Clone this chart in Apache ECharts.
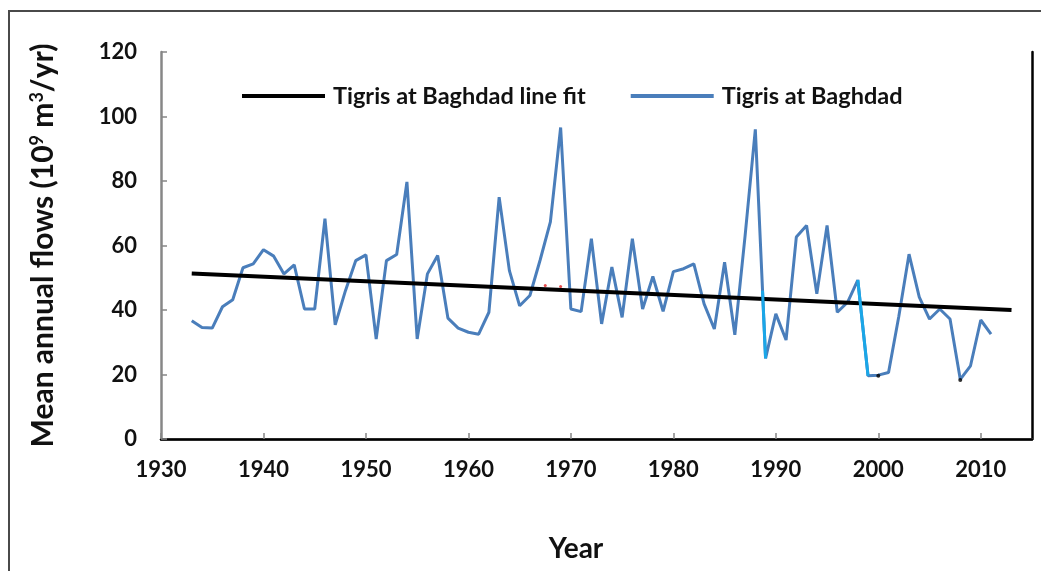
<!DOCTYPE html>
<html>
<head>
<meta charset="UTF-8">
<title>Tigris at Baghdad</title>
<script src="https://cdn.jsdelivr.net/npm/echarts@6/dist/echarts.min.js"></script>
<style>
  html, body { margin: 0; padding: 0; background: #fff; overflow: hidden; }
  #frame { position: absolute; left: 8px; top: 10px; width: 1100px; height: 700px; border: 2px solid #4a4a4a; }
  #chart { position: absolute; left: 0; top: 0; width: 1041px; height: 571px; }
</style>
</head>
<body>
<div id="frame"></div>
<div id="chart"></div>
<script type="text/javascript">
// annual flows
var years = [1933, 1934, 1935, 1936, 1937, 1938, 1939, 1940, 1941, 1942,
  1943, 1944, 1945, 1946, 1947, 1948, 1949, 1950, 1951, 1952,
  1953, 1954, 1955, 1956, 1957, 1958, 1959, 1960, 1961, 1962,
  1963, 1964, 1965, 1966, 1967, 1968, 1969, 1970, 1971, 1972,
  1973, 1974, 1975, 1976, 1977, 1978, 1979, 1980, 1981, 1982,
  1983, 1984, 1985, 1986, 1987, 1988, 1989, 1990, 1991, 1992,
  1993, 1994, 1995, 1996, 1997, 1998, 1999, 2000, 2001, 2002,
  2003, 2004, 2005, 2006, 2007, 2008, 2009, 2010, 2011];
var flows = [36.7, 34.6, 34.4, 41.0, 43.2, 53.1, 54.3, 58.7, 56.7, 51.2,
  54.0, 40.3, 40.3, 68.3, 35.4, 46.0, 55.3, 57.1, 31.0, 55.3,
  57.2, 79.7, 31.0, 51.2, 56.9, 37.5, 34.4, 33.1, 32.5, 39.3,
  75.0, 52.2, 41.3, 44.5, 55.5, 67.3, 96.6, 40.3, 39.5, 62.1,
  35.7, 53.3, 37.7, 62.1, 40.3, 50.4, 39.6, 51.9, 52.8, 54.3,
  41.9, 34.1, 54.8, 32.3, 63.0, 96.0, 25.0, 38.8, 30.7, 62.6,
  66.2, 45.0, 66.2, 39.3, 42.4, 49.3, 19.6, 19.8, 20.6, 38.0,
  57.3, 44.0, 37.2, 40.3, 37.2, 18.5, 22.7, 36.9, 32.5];

// line fit end points
var fitYears = [1933, 2013];
var fitValues = [51.3, 40.0];

// cyan highlighted drops
var hlYearsA = [1988.7, 1989];
var hlValuesA = [46.0, 25.0];
var hlYearsB = [1998, 1999];
var hlValuesB = [49.3, 19.6];

// small marks left on the picture
var blackDotYears = [2000, 2008];
var blackDotValues = [19.6, 18.3];
var redDotYears = [1967.5, 1969];
var redDotValues = [47.6, 47.3];

var xTicks = { min: 1930, max: 2015, step: 10 };
var yTicks = { min: 0, max: 120, step: 20 };

function pairs(xs, ys) {
  return xs.map(function (x, i) { return [x, ys[i]]; });
}

var font = 'Lato';
var textColor = '#111';
var axisGray = '#878787';
var blue = '#4a7ebb';

var chart = echarts.init(document.getElementById('chart'), null, { renderer: 'canvas' });
chart.setOption({
  animation: false,
  textStyle: { fontFamily: font },
  legend: {
    left: 242,
    top: 84,
    padding: 0,
    itemWidth: 83,
    itemHeight: 4,
    itemGap: 45,
    data: [
      { name: 'Tigris at Baghdad line fit', icon: 'rect' },
      { name: 'Tigris at Baghdad', icon: 'rect', itemStyle: { color: blue } }
    ],
    textStyle: { fontFamily: font, fontWeight: 'bold', fontSize: 23.5, color: textColor, padding: [0, 0, 0, 3] }
  },
  grid: { left: 161, right: 9, top: 52, bottom: 132 },
  xAxis: [{
    type: 'value',
    min: xTicks.min,
    max: xTicks.max,
    interval: xTicks.step,
    name: 'Year',
    nameLocation: 'middle',
    nameGap: 96,
    nameTextStyle: { fontFamily: font, fontWeight: 'bold', fontSize: 28, color: textColor, padding: [0, 41, 0, 0] },
    axisLine: { lineStyle: { color: axisGray, width: 2.5 } },
    axisTick: { inside: true, length: 6, lineStyle: { color: axisGray, width: 1.5 } },
    axisLabel: {
      showMaxLabel: false, margin: 20, fontFamily: font, fontWeight: 'bold', fontSize: 22, color: textColor,
      formatter: function (v) { return String(v); }
    },
    splitLine: { show: false }
  }, {
    type: 'value',
    position: 'top',
    min: xTicks.min,
    max: xTicks.max,
    axisLine: { lineStyle: { color: '#000', width: 2.5 } },
    axisTick: { show: false },
    axisLabel: { show: false },
    splitLine: { show: false }
  }],
  yAxis: [{
    type: 'value',
    min: yTicks.min,
    max: yTicks.max,
    interval: yTicks.step,
    name: 'Mean annual flows (10{s|9} m{s|3}/yr)',
    nameLocation: 'middle',
    nameGap: 103,
    nameTextStyle: {
      fontFamily: font, fontWeight: 'bold', fontSize: 30, color: textColor,
      rich: {
        s: { fontFamily: font, fontWeight: 'bold', fontSize: 18, color: textColor, verticalAlign: 'top', padding: [0, 0, 12, 0] }
      }
    },
    axisLine: { show: true, lineStyle: { color: axisGray, width: 2.5 } },
    axisTick: { show: true, inside: true, length: 6, lineStyle: { color: axisGray, width: 1.5 } },
    axisLabel: { margin: 24, fontFamily: font, fontWeight: 'bold', fontSize: 22, color: textColor },
    splitLine: { show: false }
  }, {
    type: 'value',
    position: 'right',
    min: yTicks.min,
    max: yTicks.max,
    axisLine: { show: true, lineStyle: { color: '#000', width: 2.5 } },
    axisTick: { show: false },
    axisLabel: { show: false },
    splitLine: { show: false }
  }],
  series: [{
    name: 'Tigris at Baghdad',
    type: 'line',
    data: pairs(years, flows),
    showSymbol: false,
    symbol: 'none',
    color: blue,
    lineStyle: { color: blue, width: 3 },
    z: 2
  }, {
    name: 'Tigris at Baghdad line fit',
    type: 'line',
    data: pairs(fitYears, fitValues),
    showSymbol: false,
    symbol: 'none',
    color: '#000',
    lineStyle: { color: '#000', width: 4 },
    z: 3
  }, {
    name: 'highlight a',
    type: 'line',
    data: pairs(hlYearsA, hlValuesA),
    symbol: 'none',
    lineStyle: { color: '#1aa7e8', width: 3 },
    z: 4
  }, {
    name: 'highlight b',
    type: 'line',
    data: pairs(hlYearsB, hlValuesB),
    symbol: 'none',
    lineStyle: { color: '#1aa7e8', width: 3 },
    z: 4
  }, {
    name: 'black dots',
    type: 'scatter',
    data: pairs(blackDotYears, blackDotValues),
    symbolSize: 4,
    itemStyle: { color: '#000' },
    z: 5
  }, {
    name: 'red dots',
    type: 'scatter',
    data: pairs(redDotYears, redDotValues),
    symbolSize: 3,
    itemStyle: { color: '#e02020' },
    z: 5
  }]
});
</script>
</body>
</html>
